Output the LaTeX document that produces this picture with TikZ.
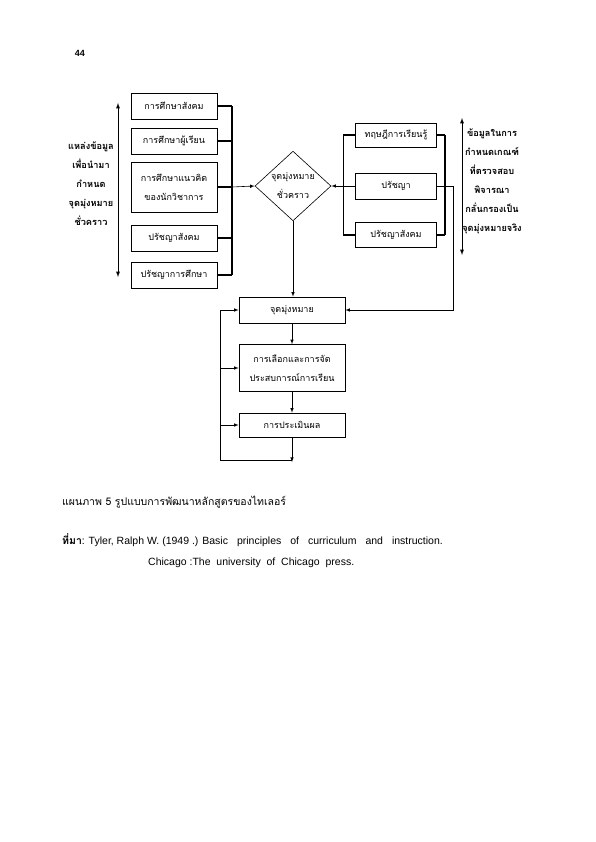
\documentclass[tikz,border=0pt]{standalone}
\usepackage{fontspec}
\setmainfont{Liberation Sans}
\newfontfamily\thai[Script=Thai]{Loma}
\usetikzlibrary{shapes.geometric}

\begin{document}
\begin{tikzpicture}[x=1pt,y=-1pt,>=latex,
    box/.style={draw, line width=0.6pt, minimum width=86pt, inner sep=1pt, align=center, font=\thai\fontsize{9}{19}\selectfont},
    rbox/.style={box, minimum width=81pt},
    gbox/.style={box, minimum width=106pt},
    bus/.style={line width=1.3pt},
    side/.style={align=center, font=\thai\bfseries\fontsize{9.2}{19}\selectfont}]
  \useasboundingbox (0,0) rectangle (595,842);
    \node (pg) at (80,53) {\bfseries\fontsize{9}{10}\selectfont 44};

    % sources on the left
    \node (s1) [box, minimum height=26pt] at (174,106) {การศึกษาสังคม};
    \node (s2) [box, minimum height=26pt] at (174,141) {การศึกษาผู้เรียน};
    \node (s3) [box, minimum height=50pt] at (174,187) {การศึกษาแนวคิด\\ของนักวิชาการ};
    \node (s4) [box, minimum height=26pt] at (174,238) {ปรัชญาสังคม};
    \node (s5) [box, minimum height=26pt] at (174,275) {ปรัชญาการศึกษา};
    \coordinate (b1) at (232,106);
    \coordinate (b3) at (232,187);
    \coordinate (b5) at (232,275);
    \node (src) [side] at (91,184) {แหล่งข้อมูล\\เพื่อนำมา\\กำหนด\\จุดมุ่งหมาย\\ชั่วคราว};
    \coordinate (la1) at (118,103);
    \coordinate (la2) at (118,277);

    \node (tmp) [diamond, draw, line width=0.6pt, inner sep=0pt, minimum width=76pt, minimum height=65pt, align=center, font=\thai\fontsize{9}{19}\selectfont] at (293,186) {จุดมุ่งหมาย\\ชั่วคราว};

    % screens on the right
    \node (r1) [rbox, minimum height=24pt] at (396,135) {ทฤษฎีการเรียนรู้};
    \node (r2) [rbox, minimum height=26pt] at (396,186) {ปรัชญา};
    \node (r3) [rbox, minimum height=25pt] at (396,235) {ปรัชญาสังคม};
    \coordinate (c1) at (343,135);
    \coordinate (c3) at (343,235);
    \coordinate (d1) at (445,135);
    \coordinate (d3) at (445,235);
    \coordinate (e1) at (453,186);
    \coordinate (e2) at (453,310);
    \node (scr) [side] at (492,181) {ข้อมูลในการ\\กำหนดเกณฑ์\\ที่ตรวจสอบ\\พิจารณา\\กลั่นกรองเป็น\\จุดมุ่งหมายจริง};
    \coordinate (ra1) at (462,118);
    \coordinate (ra2) at (462,255);

    % final steps
    \node (g1) [gbox, minimum height=26pt] at (292,310) {จุดมุ่งหมาย};
    \node (g2) [gbox, minimum height=47pt] at (292,368) {การเลือกและการจัด\\ประสบการณ์การเรียน};
    \node (g3) [gbox, minimum height=24pt] at (292,425) {การประเมินผล};
    \coordinate (f0) at (292,462);
    \coordinate (f1) at (220,460);
    \coordinate (f2) at (220,310);
    \coordinate (f3) at (220,368);
    \coordinate (f4) at (220,425);

  \draw [bus] (b1) -- (b5);
  \draw [bus] (s1) -- (b1);
  \draw [bus] (s2) -- (s2 -| b1);
  \draw [bus] (s3) -- (b3);
  \draw [bus] (s4) -- (s4 -| b1);
  \draw [bus] (s5) -- (b5);
  \draw [->, line width=0.6pt] (b3) -- (tmp.west);
  \draw [<->, line width=0.9pt] (la1) -- (la2);

  \draw [line width=0.6pt] (c1) -- (c3);
  \draw [bus] (r1) -- (c1);
  \draw [bus] (r3) -- (c3);
  \draw [->, line width=0.6pt] (r2) -- (tmp.east);
  \draw [bus] (d1) -- (d3);
  \draw [bus] (r1) -- (d1);
  \draw [bus] (r3) -- (d3);
  \draw [->, line width=0.6pt] (r2) -- (e1) -- (e2) -- (g1);
  \draw [<->, line width=0.9pt] (ra1) -- (ra2);

  \draw [->, line width=0.6pt] (tmp) -- (tmp |- g1.north);
  \draw [->, line width=0.6pt] (g1) -- (g2);
  \draw [->, line width=0.6pt] (g2) -- (g3);
  \draw [->, line width=0.6pt] (g3) -- (f0);
  \draw [->, line width=0.6pt] (f0 |- f1) -- (f1) -- (f2) -- (g1);
  \draw [->, line width=0.6pt] (f3) -- (g2);
  \draw [->, line width=0.6pt] (f4) -- (g3);

    \node (cap) [anchor=west, inner sep=0pt] at (62,502) {\thai\fontsize{10.5}{12}\selectfont แผนภาพ 5 รูปแบบการพัฒนาหลักสูตรของไทเลอร์};
    \node (ref1) [anchor=west, inner sep=0pt] at (62,540) {\fontsize{10.5}{12}\selectfont{\thai\bfseries ที่มา}: Tyler, Ralph W. (1949 .) Basic\hspace{9pt}principles\hspace{9pt}of\hspace{9pt}curriculum\hspace{9pt}and\hspace{9pt}instruction.};
    \node (ref2) [anchor=west, inner sep=0pt] at (148,563) {\fontsize{10.5}{12}\selectfont Chicago :The\ \ university\ \ of\ \ Chicago\ \ press.};
\end{tikzpicture}
\end{document}
